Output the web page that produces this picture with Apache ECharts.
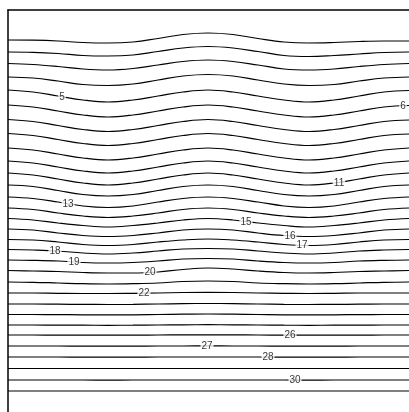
<!DOCTYPE html>
<html>
<head>
<meta charset="utf-8">
<script src="https://cdn.jsdelivr.net/npm/echarts@6/dist/echarts.min.js"></script>
<style>
html, body { margin: 0; padding: 0; background: #fff; }
#chart { width: 409px; height: 412px; }
</style>
</head>
<body>
<div id="chart"></div>
<script>
// sample positions along x, shared by every contour
var xs = [8, 33, 58, 83, 108, 133, 158, 183, 208, 233, 258, 284, 309, 334, 359, 384, 409];

// contour levels 1..31, y at each xs
var c1  = [40, 40.2, 41, 42.5, 43, 42, 38.5, 34.5, 33, 34.5, 38.5, 42, 43, 42.5, 41.5, 41, 41];
var c2  = [52, 52.3, 53.5, 55.5, 56, 55, 51.5, 48, 46.5, 48, 51.5, 55.5, 56.5, 55.5, 54, 52.5, 52];
var c3  = [63.5, 64.5, 66.5, 69, 70, 68.5, 65, 61.5, 60, 61.5, 65, 69, 70, 69, 66.5, 64.5, 63.5];
var c4  = [77, 78, 81, 84.5, 85.5, 84, 80, 76, 74.5, 76, 80, 84, 85.5, 84.5, 81, 78, 77];
var c5  = [90, 92, 96, 100, 102, 100, 96, 92, 90, 92, 96, 100, 102, 100, 96, 92, 90.5];
var c6  = [105, 107, 111, 115, 117, 115, 111, 107, 105, 107, 111, 115, 117, 115, 111, 107, 105.5];
var c7  = [119.5, 121.5, 125.5, 129.5, 131.5, 129.5, 125.5, 121.5, 119.5, 121.5, 125.5, 129.5, 131.5, 129.5, 125.5, 121.5, 120];
var c8  = [133.5, 135.5, 139.5, 143.5, 145.5, 143.5, 139.5, 135.5, 133.5, 135.5, 139.5, 143.5, 145.5, 143.5, 139.5, 135.5, 134];
var c9  = [148, 150, 154, 158, 160, 158, 154, 150, 148, 150, 154, 158, 160, 158, 154, 150, 148];
var c10 = [161, 163, 167, 171, 173, 171, 167, 163, 161, 163, 167, 171, 173, 171, 167, 163, 161];
var c11 = [173, 175, 179, 183, 185, 183, 179, 175, 173, 175, 179, 183, 185, 183, 179, 175, 173];
var c12 = [185, 186.5, 190.5, 194.5, 196, 194.5, 190.5, 186.5, 185, 186.5, 190.5, 194.5, 196, 194.5, 190.5, 186.5, 185];
var c13 = [197, 198.5, 202, 206, 207.5, 206, 202, 198.5, 197, 198.5, 202, 206, 207.5, 206, 202, 198.5, 197];
var c14 = [208, 209.5, 213, 216, 217.5, 216, 213, 209.5, 208, 209.5, 213, 216, 217.5, 216, 213, 209.5, 208];
var c15 = [218.5, 220, 223, 225.5, 227, 225.5, 223, 220, 218.5, 220, 223, 225.5, 227, 225.5, 223, 220, 218.5];
var c16 = [229, 230, 233, 235.5, 236.5, 235.5, 233, 230, 229, 230, 233, 235.5, 236.5, 235.5, 233, 230, 229];
var c17 = [239.5, 240, 242, 244.5, 245.5, 244.5, 242, 240, 239, 240, 242, 244.5, 245.5, 244.5, 242, 240, 239.5];
var c18 = [249.5, 250, 251, 253, 254, 253, 251, 249, 248.5, 249, 251, 253, 254, 253, 251, 250, 249.5];
var c19 = [260, 260.3, 261, 262.5, 263, 262.5, 261, 259, 258.5, 259, 261, 262.5, 263, 262.5, 261, 260.3, 260];
var c20 = [270.5, 271, 271.5, 272.5, 273, 273, 272, 269.5, 268, 269, 271, 272.5, 273, 272.5, 271.5, 271, 270.5];
var c21 = [282, 282.3, 283, 283.7, 284, 283.7, 283, 281.5, 281, 281.5, 283, 283.7, 284, 283.7, 283, 282.3, 282];
var c22 = [293, 293, 293.3, 293.5, 293.5, 293.3, 293, 292.5, 292.3, 292.5, 293, 293.3, 293.5, 293.3, 293, 293, 293];
var c23 = [304, 304, 304.2, 304.4, 304.5, 304.4, 304, 303.6, 303.5, 303.6, 304, 304.4, 304.5, 304.4, 304.2, 304, 304];
var c24 = [314.5, 314.5, 314.6, 314.8, 314.8, 314.8, 314.5, 314.2, 314, 314.2, 314.5, 314.8, 314.8, 314.8, 314.6, 314.5, 314.5];
var c25 = [325, 325, 325.1, 325.2, 325.3, 325.2, 325, 324.8, 324.7, 324.8, 325, 325.2, 325.3, 325.2, 325.1, 325, 325];
var c26 = [335, 335, 335.1, 335.2, 335.2, 335.2, 335, 334.9, 334.8, 334.9, 335, 335.2, 335.2, 335.2, 335.1, 335, 335];
var c27 = [346, 346, 346, 346.1, 346.1, 346.1, 346, 346, 345.9, 346, 346, 346.1, 346.1, 346.1, 346, 346, 346];
var c28 = [357, 357, 357, 357.1, 357.1, 357.1, 357, 357, 357, 357, 357, 357.1, 357.1, 357.1, 357, 357, 357];
var c29 = [368.5, 368.5, 368.5, 368.5, 368.5, 368.5, 368.5, 368.5, 368.5, 368.5, 368.5, 368.5, 368.5, 368.5, 368.5, 368.5, 368.5];
var c30 = [380, 380, 380, 380, 380.1, 380, 380, 380, 380, 380, 380, 380, 380.1, 380, 380, 380, 380];
var c31 = [391, 391, 391, 391, 391, 391, 391, 391, 391, 391, 391, 391, 391, 391, 391, 391, 391];

var contours = [c1, c2, c3, c4, c5, c6, c7, c8, c9, c10, c11, c12, c13, c14, c15, c16,
                c17, c18, c19, c20, c21, c22, c23, c24, c25, c26, c27, c28, c29, c30, c31];

// inline labels
var labelLevel = [5, 6, 11, 13, 15, 16, 17, 18, 19, 20, 22, 26, 27, 28, 30];
var labelX = [62, 403, 339, 68, 246, 290, 302, 55, 74, 150, 144, 290, 207, 268, 295];
var labelY = [97, 106, 183.5, 204, 222, 236.5, 245.5, 251, 262, 272.5, 293, 335, 346, 357, 380.5];

var chart = echarts.init(document.getElementById('chart'));

var series = [];
for (var i = 0; i < contours.length; i++) {
    var pts = [];
    for (var j = 0; j < xs.length; j++) {
        pts.push([xs[j], contours[i][j]]);
    }
    series.push({
        name: 'level ' + (i + 1),
        type: 'line',
        data: pts,
        smooth: 0.4,
        showSymbol: false,
        symbol: 'none',
        clip: true,
        z: 2,
        lineStyle: { color: '#000', width: 1.2 }
    });
}

var labelData = [];
for (var k = 0; k < labelLevel.length; k++) {
    labelData.push([labelX[k], labelY[k], labelLevel[k]]);
}
series.push({
    type: 'scatter',
    data: labelData,
    symbolSize: 0,
    z: 5,
    label: {
        show: true,
        position: 'inside',
        formatter: function (p) { return String(p.value[2]); },
        color: '#000',
        fontFamily: 'Liberation Sans, Arial, sans-serif',
        fontSize: 10,
        lineHeight: 10,
        backgroundColor: '#fff',
        padding: [0, 1]
    }
});

var option = {
    animation: false,
    grid: { left: 8, top: 10, right: 0, bottom: 0, containLabel: false },
    xAxis: {
        type: 'value',
        position: 'top',
        min: 8,
        max: 409,
        axisLine: { show: true, onZero: false, lineStyle: { color: '#000', width: 1.5 } },
        axisTick: { show: false },
        axisLabel: { show: false },
        splitLine: { show: false }
    },
    yAxis: {
        type: 'value',
        inverse: true,
        min: 10,
        max: 412,
        axisLine: { show: true, onZero: false, lineStyle: { color: '#000', width: 1.5 } },
        axisTick: { show: false },
        axisLabel: { show: false },
        splitLine: { show: false }
    },
    series: series
};
chart.setOption(option);
</script>
</body>
</html>
